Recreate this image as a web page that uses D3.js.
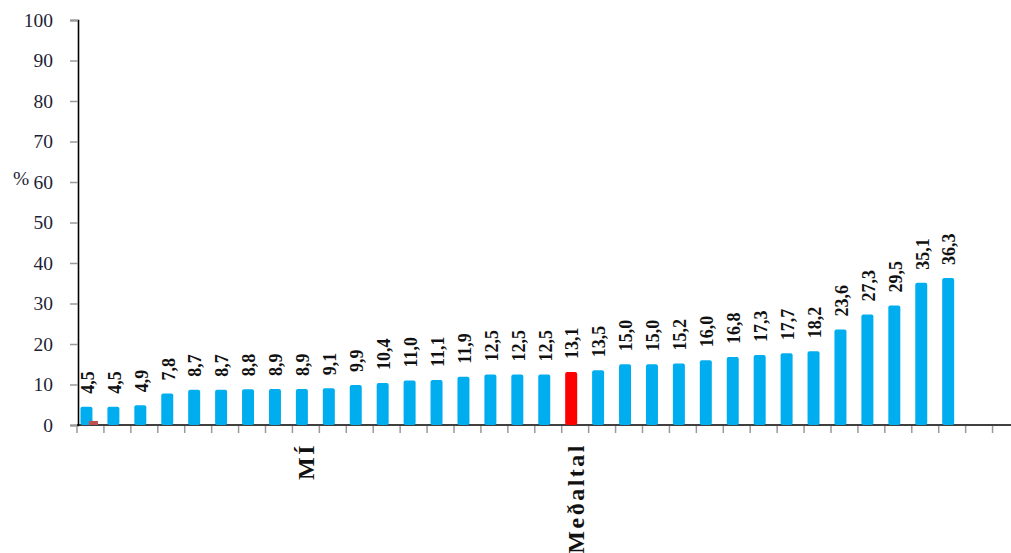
<!DOCTYPE html>
<html>
<head>
<meta charset="utf-8">
<script src="https://cdn.jsdelivr.net/npm/d3@7"></script>
<style>
  html, body { margin: 0; padding: 0; background: #fff; }
  svg { display: block; }
</style>
</head>
<body>
<svg id="chart" width="1011" height="553"></svg>
<script>
// ---- data ----
const values = [4.5, 4.5, 4.9, 7.8, 8.7, 8.7, 8.8, 8.9, 8.9, 9.1, 9.9, 10.4, 11.0, 11.1, 11.9,
                12.5, 12.5, 12.5, 13.1, 13.5, 15.0, 15.0, 15.2, 16.0, 16.8, 17.3, 17.7, 18.2,
                23.6, 27.3, 29.5, 35.1, 36.3];
const valueLabels = ["4,5", "4,5", "4,9", "7,8", "8,7", "8,7", "8,8", "8,9", "8,9", "9,1", "9,9", "10,4",
                     "11,0", "11,1", "11,9", "12,5", "12,5", "12,5", "13,1", "13,5", "15,0", "15,0",
                     "15,2", "16,0", "16,8", "17,3", "17,7", "18,2", "23,6", "27,3", "29,5", "35,1", "36,3"];
const categoryCount = 35;            // includes two empty slots at the right
const highlightIndex = 18;           // Meðaltal bar (red)
const secondSeries = [{ index: 0, value: 1.0 }];  // small red series mark
const categoryLabels = [{ index: 8, text: "MÍ" }, { index: 18, text: "Meðaltal" }];
const yTicks = [0, 10, 20, 30, 40, 50, 60, 70, 80, 90, 100];
const yUnit = "%";

// ---- layout ----
const svg = d3.select("#chart");
const x0 = 77, x1 = 1019.5, yBottom = 425, yTop = 20;

const x = d3.scaleBand().domain(d3.range(categoryCount)).range([x0, x1]).paddingInner(0).paddingOuter(0);
const y = d3.scaleLinear().domain([0, 100]).range([yBottom, yTop]);

const blue = "#00AEEF", red = "#FF0000", darkRed = "#C0504D";
const barW = 12, barShift = -4;

// y axis
const yAxis = d3.axisLeft(y).tickValues(yTicks).tickSize(8).tickPadding(17).tickFormat(d3.format("d"));
const gy = svg.append("g").attr("transform", `translate(${x0 + 1},0)`).call(yAxis);
gy.select(".domain").attr("stroke", "#000").attr("stroke-width", 1.6);
gy.selectAll(".tick line").attr("stroke", "#9a9a9a").attr("stroke-width", 1.5);
gy.selectAll(".tick text")
  .attr("font-family", "'Liberation Serif', 'DejaVu Serif', serif")
  .attr("font-size", 19.5).attr("fill", "#1e1e35");

svg.append("text").attr("x", 13).attr("y", y(60) + 3)
  .attr("font-family", "'Liberation Serif', serif").attr("font-size", 19.5).attr("fill", "#1e1e35")
  .text(yUnit);

// x axis
const gx = svg.append("g").attr("transform", `translate(0,${yBottom})`);
gx.append("line").attr("x1", x0).attr("x2", 1011).attr("y1", 0).attr("y2", 0)
  .attr("stroke", "#000").attr("stroke-width", 1.6);
gx.selectAll("line.tk").data(d3.range(categoryCount + 1)).enter().append("line")
  .attr("class", "tk")
  .attr("x1", i => x0 + i * x.step()).attr("x2", i => x0 + i * x.step())
  .attr("y1", 1).attr("y2", 8)
  .attr("stroke", "#9a9a9a").attr("stroke-width", 1.5);

// bars
svg.append("g").selectAll("rect").data(values).enter().append("rect")
  .attr("x", (d, i) => x(i) + x.bandwidth() / 2 + barShift - barW / 2)
  .attr("y", d => y(d))
  .attr("width", barW)
  .attr("height", d => y(0) - y(d))
  .attr("rx", 2)
  .attr("fill", (d, i) => i === highlightIndex ? red : blue);

// second series
svg.append("g").selectAll("rect").data(secondSeries).enter().append("rect")
  .attr("x", d => x(d.index) + x.bandwidth() / 2 + 3 - 4.5)
  .attr("y", d => y(d.value))
  .attr("width", 9)
  .attr("height", d => y(0) - y(d.value))
  .attr("fill", darkRed);

// value labels
svg.append("g").selectAll("text").data(values).enter().append("text")
  .attr("transform", (d, i) => `translate(${x(i) + x.bandwidth() / 2 + barShift + 1},${y(d) - 13}) rotate(-90)`)
  .attr("dy", "0.35em")
  .attr("font-family", "'Liberation Serif', 'DejaVu Serif', serif")
  .attr("font-weight", "bold").attr("font-size", 18).attr("fill", "#111")
  .text((d, i) => valueLabels[i]);

// category labels
svg.append("g").selectAll("text").data(categoryLabels).enter().append("text")
  .attr("transform", d => `translate(${x(d.index) + x.bandwidth() / 2},443) rotate(-90)`)
  .attr("dy", "0.35em")
  .attr("text-anchor", "end")
  .attr("font-family", "'Liberation Serif', 'DejaVu Serif', serif")
  .attr("font-weight", "bold").attr("font-size", 24).attr("letter-spacing", 2.5).attr("fill", "#111")
  .text(d => d.text);
</script>
</body>
</html>
